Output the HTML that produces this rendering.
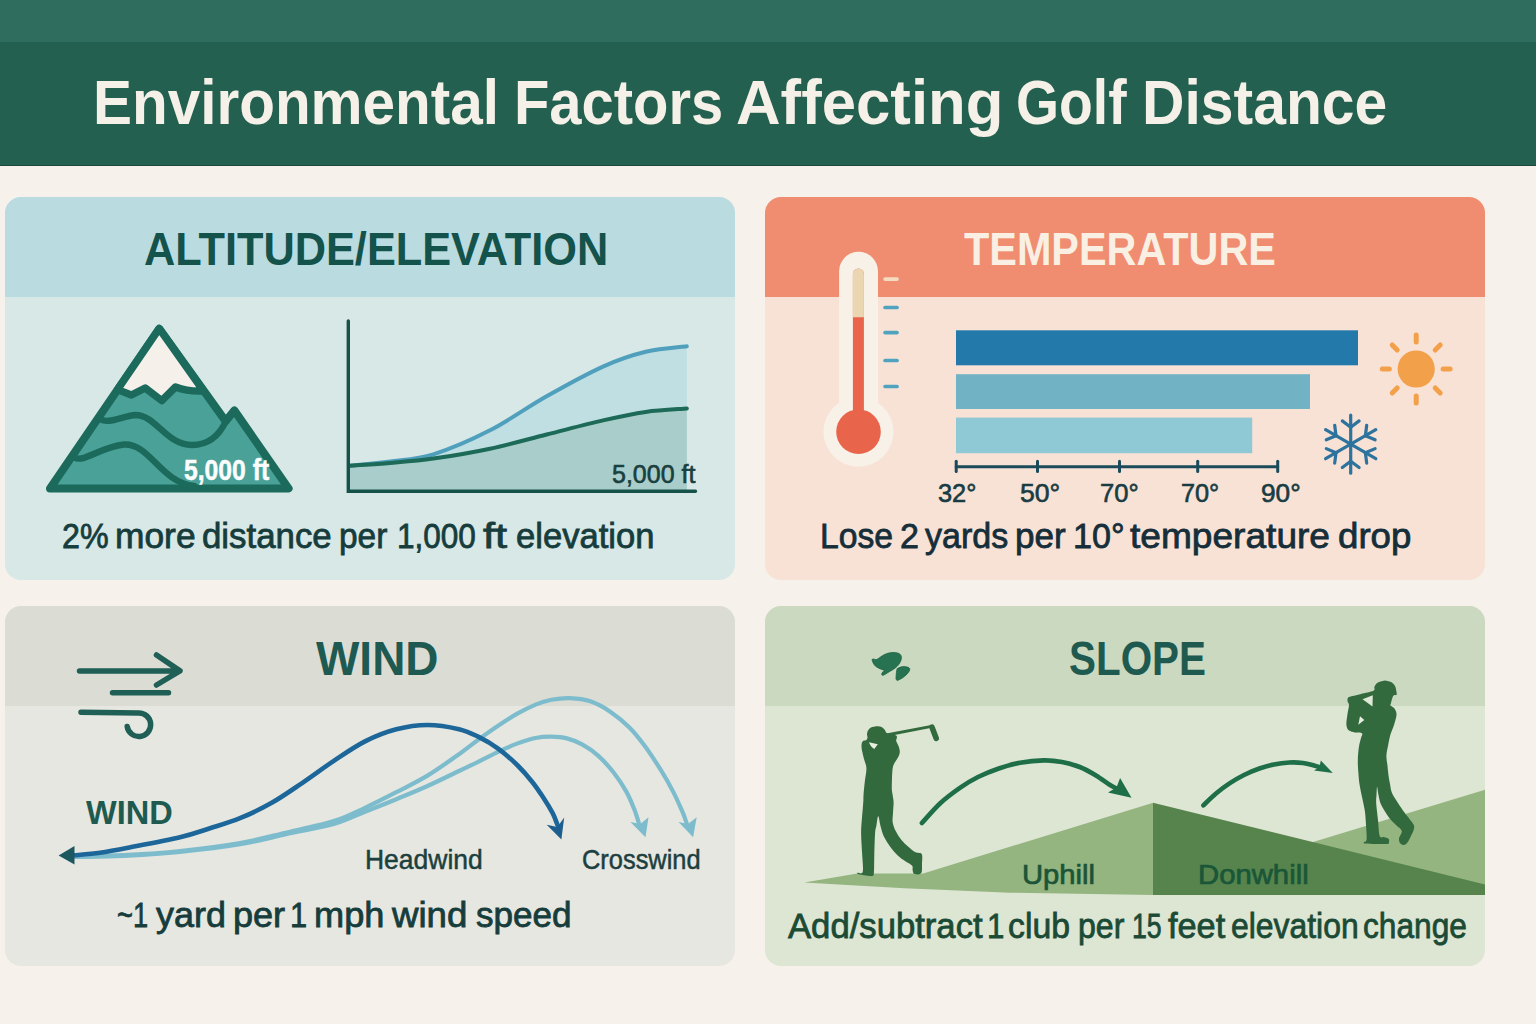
<!DOCTYPE html>
<html>
<head>
<meta charset="utf-8">
<title>Environmental Factors Affecting Golf Distance</title>
<style>
html,body{margin:0;padding:0;}
body{width:1536px;height:1024px;overflow:hidden;background:#f6f1eb;font-family:"Liberation Sans",sans-serif;position:relative;}
.band1{position:absolute;left:0;top:0;width:1536px;height:42px;background:#2f6e5f;}
.band2{position:absolute;left:0;top:42px;width:1536px;height:123px;background:#24604f;border-bottom:1.5px solid #1b4a3c;box-sizing:content-box;}
.panel{position:absolute;border-radius:16px;overflow:hidden;}
.panel .hd{position:absolute;left:0;top:0;width:100%;}
#p1{left:5px;top:197px;width:730px;height:383px;background:#d7e8e6;}
#p1 .hd{height:100px;background:#badce0;}
#p2{left:765px;top:197px;width:720px;height:383px;background:#f8e2d6;}
#p2 .hd{height:100px;background:#f08c70;}
#p3{left:5px;top:606px;width:730px;height:360px;background:#e6e7e0;}
#p3 .hd{height:99.5px;background:#dbddd5;}
#p4{left:765px;top:606px;width:720px;height:360px;background:#dde5d3;}
#p4 .hd{height:99.5px;background:#cbd9c0;}
svg#art{position:absolute;left:0;top:0;width:1536px;height:1024px;}
.t{position:absolute;white-space:nowrap;line-height:1;transform-origin:0 0;margin:0;padding:0;}
</style>
</head>
<body>
<div class="band1"></div>
<div class="band2"></div>
<div class="panel" id="p1"><div class="hd"></div></div>
<div class="panel" id="p2"><div class="hd"></div></div>
<div class="panel" id="p3"><div class="hd"></div></div>
<div class="panel" id="p4"><div class="hd"></div></div>
<svg id="art" viewBox="0 0 1536 1024" width="1536" height="1024">
<g stroke="#1b6a5c" stroke-width="8" stroke-linejoin="round" stroke-linecap="round" fill="none">
<path d="M50 488.5 L159.2 328.7 L225.6 421.2 L234.3 410.4 L288.6 488.5 Z" fill="#4aa198"/>
<path d="M159.2 328.7 L117.5 389.6 L131.4 395 L145.2 388 L161.8 400.6 L175.5 387 Q189 392 203.5 391 Z" fill="#f5f0ea" stroke-width="7.4"/>
<path d="M99 418.5 C108 425 122 416 135.5 415 C156 415 166 445 192 445 C210 445 220 434 226 421" stroke-width="6.4"/>
<path d="M74.5 457.5 C84 463 100 447 124 444.5 C150 443 160 482 194 486" stroke-width="6.4"/>
</g>
<path d="M349.7 465.7 C356.4 465.0 376.1 463.4 390.0 461.5 C403.9 459.6 416.6 459.5 433.3 454.3 C450.0 449.1 471.1 440.0 490.0 430.3 C508.9 420.6 527.8 406.9 546.6 396.3 C565.4 385.7 586.5 374.0 603.0 366.6 C619.5 359.2 631.7 355.2 645.7 351.8 C659.7 348.4 679.9 347.1 686.8 346.2 L686.8 491 L349.7 491 Z" fill="#bfdfe3"/>
<path d="M349.7 465.7 C356.4 465.2 376.1 464.2 390.0 463.0 C403.9 461.8 416.6 461.0 433.3 458.6 C450.0 456.2 471.1 452.7 490.0 448.7 C508.9 444.7 527.8 439.2 546.6 434.5 C565.4 429.8 586.5 424.2 603.0 420.4 C619.5 416.6 631.7 413.9 645.7 411.9 C659.7 409.9 679.9 409.1 686.8 408.5 L686.8 491 L349.7 491 Z" fill="#a9cdca"/>
<path d="M349.7 465.7 C356.4 465.0 376.1 463.4 390.0 461.5 C403.9 459.6 416.6 459.5 433.3 454.3 C450.0 449.1 471.1 440.0 490.0 430.3 C508.9 420.6 527.8 406.9 546.6 396.3 C565.4 385.7 586.5 374.0 603.0 366.6 C619.5 359.2 631.7 355.2 645.7 351.8 C659.7 348.4 679.9 347.1 686.8 346.2" fill="none" stroke="#4f9fbd" stroke-width="4" stroke-linecap="round"/>
<path d="M349.7 465.7 C356.4 465.2 376.1 464.2 390.0 463.0 C403.9 461.8 416.6 461.0 433.3 458.6 C450.0 456.2 471.1 452.7 490.0 448.7 C508.9 444.7 527.8 439.2 546.6 434.5 C565.4 429.8 586.5 424.2 603.0 420.4 C619.5 416.6 631.7 413.9 645.7 411.9 C659.7 409.9 679.9 409.1 686.8 408.5" fill="none" stroke="#1d6a58" stroke-width="4" stroke-linecap="round"/>
<path d="M348.3 321 L348.3 491.2 L695.5 491.2" fill="none" stroke="#17524a" stroke-width="3.4" stroke-linecap="round" stroke-linejoin="miter"/>
<g>
<rect x="839.1" y="251.7" width="38.9" height="190" rx="19.45" fill="#f8f1e7"/>
<circle cx="858.5" cy="431.7" r="35" fill="#f8f1e7"/>
<rect x="852.9" y="268.6" width="11" height="165" rx="5.5" fill="#e8644b"/>
<path d="M852.9 317.3 L852.9 274.1 A5.5 5.5 0 0 1 863.9 274.1 L863.9 317.3 Z" fill="#ead7b1"/>
<circle cx="858.5" cy="431.7" r="22.3" fill="#e8644b"/>
<g stroke-width="3.7" stroke-linecap="round">
<line x1="885.1" y1="279.1" x2="897" y2="279.1" stroke="#f3dcc0"/>
<line x1="885.1" y1="307.5" x2="897" y2="307.5" stroke="#4fa3bf"/>
<line x1="885.1" y1="332.6" x2="897" y2="332.6" stroke="#4fa3bf"/>
<line x1="885.1" y1="360.5" x2="897" y2="360.5" stroke="#4fa3bf"/>
<line x1="885.1" y1="386.5" x2="897" y2="386.5" stroke="#4fa3bf"/>
</g></g>
<rect x="956" y="330.3" width="402" height="35" fill="#237aaa"/>
<rect x="956" y="374.2" width="354" height="34.8" fill="#71b2c4"/>
<rect x="956" y="417.6" width="296.2" height="35.6" fill="#90c9d6"/>
<g stroke="#1b4b5a" stroke-width="3" stroke-linecap="round">
<line x1="956.2" y1="466.7" x2="1277.7" y2="466.7"/>
<line x1="956.2" y1="461.2" x2="956.2" y2="471.6"/>
<line x1="1037.5" y1="461.2" x2="1037.5" y2="471.6"/>
<line x1="1119.5" y1="461.2" x2="1119.5" y2="471.6"/>
<line x1="1197.7" y1="461.2" x2="1197.7" y2="471.6"/>
<line x1="1277.7" y1="461.2" x2="1277.7" y2="471.6"/>
</g>
<circle cx="1416.2" cy="369" r="18.6" fill="#f3a04b"/>
<g stroke="#f3a04b" stroke-width="5" stroke-linecap="round">
<line x1="1443.1" y1="369.0" x2="1450.1" y2="369.0"/>
<line x1="1435.2" y1="388.0" x2="1440.2" y2="393.0"/>
<line x1="1416.2" y1="395.9" x2="1416.2" y2="402.9"/>
<line x1="1397.2" y1="388.0" x2="1392.2" y2="393.0"/>
<line x1="1389.3" y1="369.0" x2="1382.3" y2="369.0"/>
<line x1="1397.2" y1="350.0" x2="1392.2" y2="345.0"/>
<line x1="1416.2" y1="342.1" x2="1416.2" y2="335.1"/>
<line x1="1435.2" y1="350.0" x2="1440.2" y2="345.0"/>
</g>
<g stroke="#2d739e" stroke-width="3.2" stroke-linecap="round" fill="none">
<line x1="1350.7" y1="444.2" x2="1350.7" y2="415.2"/>
<line x1="1350.7" y1="427.2" x2="1359.1" y2="420.9"/>
<line x1="1350.7" y1="427.2" x2="1342.3" y2="420.9"/>
<line x1="1350.7" y1="444.2" x2="1325.6" y2="429.7"/>
<line x1="1336.0" y1="435.7" x2="1334.7" y2="425.3"/>
<line x1="1336.0" y1="435.7" x2="1326.3" y2="439.8"/>
<line x1="1350.7" y1="444.2" x2="1325.6" y2="458.7"/>
<line x1="1336.0" y1="452.7" x2="1326.3" y2="448.6"/>
<line x1="1336.0" y1="452.7" x2="1334.7" y2="463.1"/>
<line x1="1350.7" y1="444.2" x2="1350.7" y2="473.2"/>
<line x1="1350.7" y1="461.2" x2="1342.3" y2="467.5"/>
<line x1="1350.7" y1="461.2" x2="1359.1" y2="467.5"/>
<line x1="1350.7" y1="444.2" x2="1375.8" y2="458.7"/>
<line x1="1365.4" y1="452.7" x2="1366.7" y2="463.1"/>
<line x1="1365.4" y1="452.7" x2="1375.1" y2="448.6"/>
<line x1="1350.7" y1="444.2" x2="1375.8" y2="429.7"/>
<line x1="1365.4" y1="435.7" x2="1375.1" y2="439.8"/>
<line x1="1365.4" y1="435.7" x2="1366.7" y2="425.3"/>
</g>
<g stroke="#1f5f55" stroke-width="5.5" stroke-linecap="round" stroke-linejoin="round" fill="none">
<path d="M79.5 670.9 L179 670.9 M156.5 655 L180 670.9 L156.5 685"/>
<path d="M112.5 692.7 L168.5 692.7"/>
<path d="M81 712.3 L138.4 712.9 A11.8 11.8 0 1 1 127.2 726.5"/>
</g>
<path d="M74.0 856.4 C83.0 856.1 110.3 855.8 128.0 854.9 C145.7 854.0 161.3 853.0 180.0 851.0 C198.7 849.0 222.2 846.1 240.0 843.0 C257.8 839.9 271.3 836.1 286.9 832.5 C302.5 828.9 320.8 825.2 333.8 821.1 C346.8 817.0 354.6 812.6 365.0 807.8 C375.4 803.0 385.9 797.6 396.3 792.2 C406.7 786.8 417.1 781.9 427.5 775.6 C437.9 769.3 450.5 760.2 459.0 754.2 C467.5 748.2 472.1 744.2 478.6 739.5 C485.1 734.8 491.6 730.1 498.1 725.8 C504.6 721.4 511.5 716.9 517.7 713.4 C524.0 709.9 530.0 706.9 535.6 704.6 C541.2 702.3 545.6 700.9 551.3 699.8 C557.0 698.7 563.5 697.9 570.0 698.1 C576.5 698.4 583.5 699.0 590.3 701.3 C597.1 703.6 604.1 707.5 610.6 711.9 C617.1 716.3 623.7 721.8 629.4 727.5 C635.1 733.2 639.8 739.3 645.0 746.3 C650.2 753.3 655.9 762.2 660.6 769.7 C665.3 777.2 669.5 784.6 673.1 791.6 C676.8 798.6 680.2 806.7 682.5 811.9 C684.8 817.1 685.9 821.1 686.6 823.0" fill="none" stroke="#7dbccd" stroke-width="4.2" stroke-linecap="round"/>
<path d="M74.0 857.0 C83.0 856.8 110.3 856.4 128.0 855.6 C145.7 854.8 161.3 853.9 180.0 852.0 C198.7 850.1 222.2 847.3 240.0 844.3 C257.8 841.3 271.3 837.4 286.9 834.0 C302.5 830.6 320.8 827.7 333.8 824.0 C346.8 820.3 354.6 815.8 365.0 811.7 C375.4 807.6 385.9 803.5 396.3 799.2 C406.7 794.9 417.1 790.7 427.5 786.0 C437.9 781.3 450.5 775.1 459.0 771.0 C467.5 766.9 472.1 764.8 478.6 761.6 C485.1 758.4 491.6 754.8 498.1 751.8 C504.6 748.8 511.5 745.7 517.7 743.4 C524.0 741.1 530.0 739.1 535.6 738.0 C541.2 736.9 546.1 736.6 551.3 736.7 C556.5 736.8 561.7 737.1 566.9 738.4 C572.1 739.7 577.3 741.8 582.5 744.7 C587.7 747.6 592.9 750.9 598.1 755.6 C603.3 760.3 609.1 766.8 613.8 772.8 C618.5 778.8 622.9 785.6 626.3 791.6 C629.7 797.6 632.0 803.6 634.1 808.8 C636.2 814.0 638.0 820.6 638.8 823.0" fill="none" stroke="#7dbccd" stroke-width="4.2" stroke-linecap="round"/>
<path d="M74.0 855.3 C78.3 854.9 91.0 854.0 100.0 852.8 C109.0 851.5 114.7 850.4 128.0 847.8 C141.3 845.2 166.3 840.5 180.0 837.3 C193.7 834.0 200.0 831.5 210.0 828.3 C220.0 825.1 229.8 822.4 240.0 818.2 C250.2 814.0 260.9 809.0 271.3 803.1 C281.7 797.2 292.1 789.8 302.5 782.8 C312.9 775.8 323.4 767.8 333.8 760.9 C344.2 754.0 354.6 746.7 365.0 741.4 C375.4 736.1 385.9 732.0 396.3 729.3 C406.7 726.6 417.1 725.0 427.5 725.0 C437.9 725.0 450.5 727.2 459.0 729.2 C467.5 731.2 472.1 733.7 478.6 736.9 C485.1 740.1 491.6 743.8 498.1 748.6 C504.6 753.4 512.0 759.9 517.7 765.5 C523.4 771.1 528.2 776.8 532.5 782.2 C536.8 787.6 540.0 792.6 543.4 797.8 C546.8 803.0 550.4 808.9 552.8 813.4 C555.1 817.9 556.7 823.1 557.5 825.0" fill="none" stroke="#1d6699" stroke-width="4.6" stroke-linecap="round"/>
<path d="M561.4 839.4 L546.7 824.7 L557.3 827 L564.2 817.6 Z" fill="#1c5f8f"/>
<path d="M645.5 837.3 L630.4 822 L640.3 824 L648.5 817.2 Z" fill="#7dbccd"/>
<path d="M693.1 837.3 L678.5 822 L688 824 L696.7 817.2 Z" fill="#7dbccd"/>
<path d="M58.6 855.6 L74.5 846 L74.5 864.5 Z" fill="#1d5760"/>
<path d="M804.3 882.5 L857.3 873.4 L923.2 873.4 L1153.2 802.8 L1153.2 894.9 L1010 892.7 L904.6 888.3 L847.3 885.1 Z" fill="#94b580"/>
<path d="M1290 849.1 L1485 789.8 L1485 890 L1290 890 Z" fill="#94b580"/>
<path d="M1153 802.8 L1485 884.4 L1485 894.9 L1153 894.9 Z" fill="#56844c"/>
<path d="M921.9 823.0 C924.9 819.8 933.7 809.4 940.0 803.5 C946.3 797.6 953.6 792.3 959.9 787.9 C966.2 783.5 971.5 780.2 978.0 777.0 C984.5 773.8 991.8 770.9 998.8 768.5 C1005.8 766.1 1012.5 764.1 1020.0 762.8 C1027.5 761.4 1036.8 760.5 1043.8 760.4 C1050.8 760.3 1056.0 760.9 1062.0 762.0 C1068.0 763.1 1074.0 764.8 1079.7 767.0 C1085.4 769.2 1091.0 772.5 1096.0 775.5 C1101.0 778.5 1106.5 782.8 1110.0 785.0 C1113.5 787.2 1115.7 788.0 1116.8 788.6" fill="none" stroke="#1e6e48" stroke-width="4.6" stroke-linecap="round"/>
<path d="M1131.5 797.8 L1120.1 778 L1116.5 787.5 L1108 792.6 Z" fill="#1e6e48"/>
<path d="M1203.4 805.3 C1205.5 803.3 1211.7 797.1 1216.0 793.5 C1220.3 789.9 1224.8 786.5 1229.5 783.4 C1234.2 780.3 1239.0 777.5 1244.0 775.0 C1249.0 772.5 1254.4 770.2 1259.4 768.5 C1264.4 766.8 1269.0 765.5 1274.0 764.5 C1279.0 763.5 1284.5 762.8 1289.3 762.5 C1294.1 762.2 1298.9 762.5 1303.0 763.0 C1307.1 763.5 1311.2 764.7 1314.0 765.4 C1316.8 766.1 1319.0 767.1 1320.0 767.4" fill="none" stroke="#1e6e48" stroke-width="4.6" stroke-linecap="round"/>
<path d="M1332.8 772.9 L1320.8 760.5 L1319.5 767 L1314 770.6 Z" fill="#1e6e48"/>
<path d="M872.2 659.3 C873.5 658.5 875 659.8 876.6 659.5 C879 658.5 881.5 656 884.4 654.6 C887.5 653.2 891 652.2 894.2 652.5 C897.5 652.7 900.2 653.6 901 655.6 C901.8 657.5 901.3 659.6 900.5 661.5 C899.6 663.6 898 665.6 896.1 667.3 C894 669 891.5 670.5 889.3 671.7 C887.2 672.9 885 674.6 883.4 675.2 C882 675.6 881.2 674.5 882 673.2 C882.6 672 883.8 671.2 884.4 670.3 C882 669.6 879.3 668.6 877.1 667.3 C875.2 666.1 873.9 664.4 873.2 662.9 C872.6 661.6 871.8 660 872.2 659.3 Z" fill="#277351" stroke="#1b6543" stroke-width="0.8"/>
<path d="M897.1 668.8 C899 667.5 901.5 666.6 903.9 666.6 C906.4 666.7 909.3 667.4 909.8 668.8 C910 670.5 908.4 672.6 906.9 674.2 C904.5 676.8 899.5 680 897.1 680.5 C896 680 895.8 678.2 896.1 676.6 C896.2 674 896.5 671 897.1 668.8 Z" fill="#277351" stroke="#1b6543" stroke-width="0.8"/>
<path d="M876.0 726.2 C876.8 726.3 879.6 726.2 881.0 726.8 C882.4 727.3 883.6 728.5 884.5 729.5 C885.4 730.5 885.5 731.8 886.2 732.5 C886.9 733.2 887.5 733.4 888.5 733.6 C889.5 733.8 890.7 733.4 892.0 733.8 C893.3 734.2 895.7 735.1 896.5 735.8 C897.3 736.5 896.8 737.1 896.8 738.0 C896.8 738.9 895.9 739.7 896.2 741.0 C896.5 742.3 897.9 744.2 898.5 746.0 C899.1 747.8 899.9 750.1 899.8 752.0 C899.7 753.9 898.9 755.7 898.0 757.5 C897.1 759.3 895.4 761.2 894.5 763.0 C893.6 764.8 893.1 765.5 892.7 768.0 C892.3 770.5 892.1 774.5 892.0 778.0 C891.9 781.5 891.7 786.0 891.8 789.0 C891.9 792.0 892.5 793.7 892.8 796.0 C893.1 798.3 893.6 800.2 893.6 803.0 C893.6 805.8 893.1 809.8 893.0 813.0 C892.9 816.2 892.2 819.3 892.7 822.4 C893.2 825.5 894.5 828.6 896.0 831.5 C897.5 834.4 899.5 837.5 901.5 840.0 C903.5 842.5 905.7 844.5 908.0 846.5 C910.3 848.5 913.2 851.0 915.5 852.3 C917.8 853.6 920.6 852.1 921.7 854.1 C922.8 856.1 922.0 861.0 922.0 864.0 C922.0 867.0 922.2 870.3 921.7 872.0 C921.2 873.7 920.3 873.9 919.0 874.2 C917.7 874.5 915.1 874.5 914.0 873.8 C912.9 873.1 912.9 871.4 912.6 870.0 C912.3 868.6 913.3 867.0 912.0 865.5 C910.7 864.0 907.3 862.6 905.0 861.0 C902.7 859.4 900.5 858.2 898.0 855.8 C895.5 853.4 892.4 849.7 890.0 846.5 C887.6 843.3 885.5 839.9 883.9 836.5 C882.3 833.1 881.4 829.4 880.5 826.0 C879.6 822.6 879.0 816.5 878.3 816.3 C877.6 816.1 877.0 822.2 876.5 825.0 C876.0 827.8 875.5 828.0 875.1 833.0 C874.7 838.0 874.5 848.3 874.3 855.0 C874.1 861.7 874.3 869.5 873.9 873.0 C873.5 876.5 873.3 875.6 872.0 876.0 C870.7 876.4 868.3 875.8 866.0 875.5 C863.7 875.2 859.4 874.5 858.0 874.0 C856.6 873.5 856.8 873.2 857.6 872.8 C858.4 872.4 862.1 875.1 862.8 871.6 C863.5 868.1 862.3 858.4 862.0 852.0 C861.7 845.6 861.1 838.3 861.1 833.0 C861.1 827.7 861.5 824.1 861.8 820.0 C862.1 815.9 862.5 811.7 862.8 808.4 C863.1 805.1 863.2 802.6 863.4 800.0 C863.5 797.4 863.4 795.9 863.7 792.6 C864.0 789.3 864.5 784.1 865.0 780.0 C865.5 775.9 866.6 771.5 866.4 768.0 C866.2 764.5 864.7 761.9 864.0 759.0 C863.3 756.1 862.4 752.6 862.0 750.4 C861.6 748.2 861.5 747.3 861.5 746.0 C861.5 744.7 861.6 743.4 862.0 742.5 C862.4 741.6 863.3 741.0 864.0 740.6 C864.7 740.2 865.8 740.4 866.4 739.9 C867.0 739.4 867.4 738.4 867.5 737.5 C867.6 736.6 866.9 735.8 867.0 734.6 C867.1 733.4 867.3 731.7 868.0 730.5 C868.7 729.3 869.7 728.2 871.0 727.5 C872.3 726.8 875.2 726.4 876.0 726.2 Z" fill="#326a3e"/>
<path d="M886.5 735 L931.5 726.4" stroke="#326a3e" stroke-width="3" stroke-linecap="round" fill="none"/>
<path d="M932 727.2 L936.2 738.3" stroke="#326a3e" stroke-width="5.6" stroke-linecap="round" fill="none"/>
<path d="M869 742.3 L877.8 744.3 L874.3 748.9 Q870.5 747 869 742.3 Z" fill="#e9eee0"/>
<path d="M1385.0 680.5 C1386.0 680.8 1389.3 681.1 1391.0 682.0 C1392.7 682.9 1394.1 684.5 1395.0 686.0 C1395.9 687.5 1396.0 689.5 1396.3 691.0 C1396.6 692.5 1397.0 694.1 1396.6 694.8 C1396.2 695.5 1394.7 694.8 1394.0 695.2 C1393.3 695.7 1393.0 696.2 1392.5 697.5 C1392.0 698.8 1391.3 701.7 1391.0 703.0 C1390.7 704.3 1390.0 704.7 1390.5 705.5 C1391.0 706.3 1392.9 706.8 1393.8 707.8 C1394.7 708.8 1395.6 710.2 1396.0 711.5 C1396.4 712.8 1396.7 713.5 1396.4 715.7 C1396.1 718.0 1395.0 721.8 1394.0 725.0 C1393.0 728.2 1391.3 731.5 1390.3 735.0 C1389.3 738.5 1388.7 742.5 1388.0 746.0 C1387.3 749.5 1386.5 752.8 1386.4 756.1 C1386.3 759.4 1387.2 762.8 1387.5 766.0 C1387.8 769.2 1388.1 772.4 1388.5 775.4 C1388.9 778.4 1389.4 781.1 1390.0 784.0 C1390.6 786.9 1390.7 789.8 1392.0 793.0 C1393.3 796.2 1396.0 799.8 1398.0 803.0 C1400.0 806.2 1402.4 809.6 1404.3 812.3 C1406.2 815.0 1407.9 816.8 1409.5 819.0 C1411.1 821.2 1413.3 823.6 1414.0 825.5 C1414.7 827.4 1413.9 828.9 1413.5 830.5 C1413.1 832.1 1412.2 833.5 1411.4 835.1 C1410.7 836.7 1409.9 838.5 1409.0 840.0 C1408.1 841.5 1407.1 843.1 1406.1 843.9 C1405.1 844.7 1404.0 845.1 1403.0 845.0 C1402.0 844.9 1400.7 843.8 1400.0 843.0 C1399.3 842.2 1399.1 841.0 1399.0 840.0 C1398.9 839.0 1399.0 838.5 1399.4 837.0 C1399.9 835.5 1402.3 832.7 1401.7 830.7 C1401.1 828.7 1397.9 826.9 1396.0 825.0 C1394.1 823.1 1392.1 821.5 1390.3 819.3 C1388.5 817.0 1386.6 814.1 1385.0 811.5 C1383.4 808.9 1381.7 806.2 1380.6 803.5 C1379.5 800.8 1379.1 797.8 1378.5 795.0 C1377.9 792.2 1377.4 786.8 1377.1 786.8 C1376.8 786.8 1376.7 792.2 1376.5 795.0 C1376.3 797.8 1376.0 799.3 1376.2 803.5 C1376.5 807.7 1377.4 814.6 1378.0 820.0 C1378.6 825.4 1378.7 833.2 1379.7 836.0 C1380.7 838.8 1382.5 836.5 1384.0 837.0 C1385.5 837.5 1387.7 838.0 1388.5 838.7 C1389.3 839.5 1389.2 840.6 1389.0 841.5 C1388.8 842.4 1389.8 843.5 1387.6 843.9 C1385.4 844.3 1379.8 844.0 1376.0 844.0 C1372.2 844.0 1367.0 843.9 1365.0 843.6 C1363.0 843.3 1363.6 843.0 1363.9 842.3 C1364.2 841.6 1366.2 842.4 1366.6 839.5 C1366.9 836.6 1366.3 829.8 1366.0 825.0 C1365.7 820.2 1365.5 815.2 1364.8 810.5 C1364.1 805.8 1362.9 801.4 1362.0 797.0 C1361.1 792.6 1360.1 788.2 1359.5 784.2 C1358.9 780.2 1358.7 776.8 1358.4 773.0 C1358.1 769.2 1357.8 764.9 1357.8 761.4 C1357.8 757.9 1358.0 754.9 1358.3 752.0 C1358.6 749.1 1359.0 746.1 1359.5 743.8 C1360.0 741.5 1360.6 739.7 1361.0 738.0 C1361.4 736.3 1363.0 734.3 1362.0 733.4 C1361.0 732.5 1357.2 733.1 1355.0 732.6 C1352.8 732.1 1350.4 731.5 1349.0 730.6 C1347.6 729.7 1347.2 728.3 1346.8 727.0 C1346.4 725.7 1346.3 724.9 1346.4 722.7 C1346.5 720.5 1347.1 716.9 1347.5 714.0 C1347.9 711.1 1349.0 707.2 1349.0 705.1 C1349.0 703.0 1347.8 702.6 1347.6 701.5 C1347.4 700.4 1347.3 699.0 1347.8 698.2 C1348.3 697.4 1348.3 697.3 1350.5 696.6 C1352.7 695.9 1357.2 695.0 1361.0 694.0 C1364.8 693.0 1371.2 692.0 1373.4 690.8 C1375.7 689.5 1373.7 687.9 1374.5 686.5 C1375.3 685.1 1376.2 683.5 1378.0 682.5 C1379.8 681.5 1383.8 680.8 1385.0 680.5 Z" fill="#326a3e"/>
<path d="M1360 716.2 L1364.3 720 L1358.3 724.8 Z" fill="#e9eee0"/>
<path d="M1362.5 699.3 L1372.5 706.5 L1372.8 695.2 Z" fill="#e0e8d6"/>
</svg>
<div class="t" id="tw1" style="left:92.99px;top:70.75px;font-size:63.5px;font-weight:bold;color:#f5f0e8;transform:scaleX(0.9205);">Environmental</div>
<div class="t" id="tw2" style="left:513.62px;top:70.75px;font-size:63.5px;font-weight:bold;color:#f5f0e8;transform:scaleX(0.9119);">Factors</div>
<div class="t" id="tw3" style="left:735.60px;top:70.75px;font-size:63.5px;font-weight:bold;color:#f5f0e8;transform:scaleX(0.9720);">Affecting</div>
<div class="t" id="tw4" style="left:1016.32px;top:70.75px;font-size:63.5px;font-weight:bold;color:#f5f0e8;transform:scaleX(0.8715);">Golf</div>
<div class="t" id="tw5" style="left:1142.26px;top:70.75px;font-size:63.5px;font-weight:bold;color:#f5f0e8;transform:scaleX(0.9266);">Distance</div>
<div class="t" id="h1" style="left:144.41px;top:226.87px;font-size:45.4px;font-weight:bold;color:#14524c;transform:scaleX(0.9540);">ALTITUDE/ELEVATION</div>
<div class="t" id="h2" style="left:963.54px;top:226.87px;font-size:45.4px;font-weight:bold;color:#f9efe3;transform:scaleX(0.9118);">TEMPERATURE</div>
<div class="t" id="h3" style="left:316.00px;top:634.85px;font-size:47.2px;font-weight:bold;color:#1e5a52;transform:scaleX(0.9737);">WIND</div>
<div class="t" id="h4" style="left:1068.71px;top:634.75px;font-size:47.2px;font-weight:bold;color:#1f5a50;transform:scaleX(0.8568);">SLOPE</div>
<div class="t" id="c1w1" style="left:61.91px;top:519.15px;font-size:35.5px;font-weight:normal;color:#163c3c;transform:scaleX(0.9078);-webkit-text-stroke:0.8px #163c3c;">2%</div>
<div class="t" id="c1w2" style="left:114.86px;top:519.15px;font-size:35.5px;font-weight:normal;color:#163c3c;transform:scaleX(0.9961);-webkit-text-stroke:0.8px #163c3c;">more</div>
<div class="t" id="c1w3" style="left:202.33px;top:519.15px;font-size:35.5px;font-weight:normal;color:#163c3c;transform:scaleX(0.9810);-webkit-text-stroke:0.8px #163c3c;">distance</div>
<div class="t" id="c1w4" style="left:338.88px;top:519.15px;font-size:35.5px;font-weight:normal;color:#163c3c;transform:scaleX(0.9402);-webkit-text-stroke:0.8px #163c3c;">per</div>
<div class="t" id="c1w5" style="left:396.96px;top:519.15px;font-size:35.5px;font-weight:normal;color:#163c3c;transform:scaleX(0.8873);-webkit-text-stroke:0.8px #163c3c;">1,000</div>
<div class="t" id="c1w6" style="left:483.09px;top:519.15px;font-size:35.5px;font-weight:normal;color:#163c3c;transform:scaleX(1.2211);-webkit-text-stroke:0.8px #163c3c;">ft</div>
<div class="t" id="c1w7" style="left:515.74px;top:519.15px;font-size:35.5px;font-weight:normal;color:#163c3c;transform:scaleX(0.9743);-webkit-text-stroke:0.8px #163c3c;">elevation</div>
<div class="t" id="c2w1" style="left:819.65px;top:519.15px;font-size:35.5px;font-weight:normal;color:#152e3a;transform:scaleX(0.9490);-webkit-text-stroke:0.8px #152e3a;">Lose</div>
<div class="t" id="c2w2" style="left:900.02px;top:519.15px;font-size:35.5px;font-weight:normal;color:#152e3a;transform:scaleX(0.9600);-webkit-text-stroke:0.8px #152e3a;">2</div>
<div class="t" id="c2w3" style="left:924.96px;top:519.15px;font-size:35.5px;font-weight:normal;color:#152e3a;transform:scaleX(0.9584);-webkit-text-stroke:0.8px #152e3a;">yards</div>
<div class="t" id="c2w4" style="left:1015.08px;top:519.15px;font-size:35.5px;font-weight:normal;color:#152e3a;transform:scaleX(0.9876);-webkit-text-stroke:0.8px #152e3a;">per</div>
<div class="t" id="c2w5" style="left:1072.95px;top:519.15px;font-size:35.5px;font-weight:normal;color:#152e3a;transform:scaleX(0.9621);-webkit-text-stroke:0.8px #152e3a;">10°</div>
<div class="t" id="c2w6" style="left:1130.28px;top:519.15px;font-size:35.5px;font-weight:normal;color:#152e3a;transform:scaleX(1.0449);-webkit-text-stroke:0.8px #152e3a;">temperature</div>
<div class="t" id="c2w7" style="left:1337.65px;top:519.15px;font-size:35.5px;font-weight:normal;color:#152e3a;transform:scaleX(1.0324);-webkit-text-stroke:0.8px #152e3a;">drop</div>
<div class="t" id="c3w1" style="left:117.43px;top:897.17px;font-size:35px;font-weight:normal;color:#163c3c;transform:scaleX(0.7782);-webkit-text-stroke:0.8px #163c3c;">~1</div>
<div class="t" id="c3w2" style="left:155.84px;top:897.17px;font-size:35px;font-weight:normal;color:#163c3c;transform:scaleX(1.0260);-webkit-text-stroke:0.8px #163c3c;">yard</div>
<div class="t" id="c3w3" style="left:232.68px;top:897.17px;font-size:35px;font-weight:normal;color:#163c3c;transform:scaleX(1.0304);-webkit-text-stroke:0.8px #163c3c;">per</div>
<div class="t" id="c3w4" style="left:289.58px;top:897.17px;font-size:35px;font-weight:13.2;color:#163c3c;transform:scaleX(0.8800);-webkit-text-stroke:0.8px #163c3c;">1</div>
<div class="t" id="c3w5" style="left:313.67px;top:897.17px;font-size:35px;font-weight:normal;color:#163c3c;transform:scaleX(1.0346);-webkit-text-stroke:0.8px #163c3c;">mph</div>
<div class="t" id="c3w6" style="left:392.00px;top:897.17px;font-size:35px;font-weight:normal;color:#163c3c;transform:scaleX(1.0466);-webkit-text-stroke:0.8px #163c3c;">wind</div>
<div class="t" id="c3w7" style="left:475.80px;top:897.17px;font-size:35px;font-weight:normal;color:#163c3c;transform:scaleX(1.0022);-webkit-text-stroke:0.8px #163c3c;">speed</div>
<div class="t" id="c4w1" style="left:788.00px;top:909.35px;font-size:35.5px;font-weight:normal;color:#1b4a35;transform:scaleX(0.9764);-webkit-text-stroke:0.8px #1b4a35;">Add/subtract</div>
<div class="t" id="c4w2" style="left:987.17px;top:909.35px;font-size:35.5px;font-weight:13.42;color:#1b4a35;transform:scaleX(0.8800);-webkit-text-stroke:0.8px #1b4a35;">1</div>
<div class="t" id="c4w3" style="left:1008.27px;top:909.35px;font-size:35.5px;font-weight:normal;color:#1b4a35;transform:scaleX(0.9510);-webkit-text-stroke:0.8px #1b4a35;">club</div>
<div class="t" id="c4w4" style="left:1078.27px;top:909.35px;font-size:35.5px;font-weight:normal;color:#1b4a35;transform:scaleX(0.9031);-webkit-text-stroke:0.8px #1b4a35;">per</div>
<div class="t" id="c4w5" style="left:1132.03px;top:909.35px;font-size:35.5px;font-weight:normal;color:#1b4a35;transform:scaleX(0.7518);-webkit-text-stroke:0.8px #1b4a35;">15</div>
<div class="t" id="c4w6" style="left:1167.82px;top:909.35px;font-size:35.5px;font-weight:normal;color:#1b4a35;transform:scaleX(0.9658);-webkit-text-stroke:0.8px #1b4a35;">feet</div>
<div class="t" id="c4w7" style="left:1231.45px;top:909.35px;font-size:35.5px;font-weight:normal;color:#1b4a35;transform:scaleX(0.8984);-webkit-text-stroke:0.8px #1b4a35;">elevation</div>
<div class="t" id="c4w8" style="left:1362.86px;top:909.35px;font-size:35.5px;font-weight:normal;color:#1b4a35;transform:scaleX(0.8916);-webkit-text-stroke:0.8px #1b4a35;">change</div>
<div class="t" id="m5k" style="left:184.44px;top:455.79px;font-size:28.6px;font-weight:bold;color:#fbfdfd;transform:scaleX(0.8638);-webkit-text-stroke:0.5px #fbfdfd;">5,000 ft</div>
<div class="t" id="g5k" style="left:612.10px;top:461.54px;font-size:25px;font-weight:normal;color:#17403f;transform:scaleX(0.9994);-webkit-text-stroke:0.6px #17403f;">5,000 ft</div>
<div class="t" id="hw" style="left:365.17px;top:845.60px;font-size:28px;font-weight:normal;color:#1c3f3f;transform:scaleX(0.9452);-webkit-text-stroke:0.5px #1c3f3f;">Headwind</div>
<div class="t" id="cw" style="left:581.94px;top:845.60px;font-size:28px;font-weight:normal;color:#1c3f3f;transform:scaleX(0.9075);-webkit-text-stroke:0.5px #1c3f3f;">Crosswind</div>
<div class="t" id="up" style="left:1022.25px;top:860.80px;font-size:28px;font-weight:normal;color:#1c5438;transform:scaleX(1.0439);-webkit-text-stroke:0.7px #1c5438;">Uphill</div>
<div class="t" id="dn" style="left:1198.05px;top:860.80px;font-size:28px;font-weight:normal;color:#1a5638;transform:scaleX(1.0457);-webkit-text-stroke:0.7px #1a5638;">Donwhill</div>
<div class="t" id="wl" style="left:85.60px;top:796.27px;font-size:33px;font-weight:bold;color:#1e5a50;transform:scaleX(0.9850);">WIND</div>
<div class="t" id="t1" style="left:938.18px;top:481.34px;font-size:25px;font-weight:normal;color:#183c42;transform:scaleX(1.0156);-webkit-text-stroke:0.6px #183c42;">32°</div>
<div class="t" id="t2" style="left:1019.74px;top:481.34px;font-size:25px;font-weight:normal;color:#183c42;transform:scaleX(1.0638);-webkit-text-stroke:0.6px #183c42;">50°</div>
<div class="t" id="t3" style="left:1100.42px;top:481.34px;font-size:25px;font-weight:normal;color:#183c42;transform:scaleX(1.0229);-webkit-text-stroke:0.6px #183c42;">70°</div>
<div class="t" id="t4" style="left:1181.24px;top:481.34px;font-size:25px;font-weight:normal;color:#183c42;transform:scaleX(1.0114);-webkit-text-stroke:0.6px #183c42;">70°</div>
<div class="t" id="t5" style="left:1261.19px;top:481.34px;font-size:25px;font-weight:normal;color:#183c42;transform:scaleX(1.0486);-webkit-text-stroke:0.6px #183c42;">90°</div>
</body>
</html>
